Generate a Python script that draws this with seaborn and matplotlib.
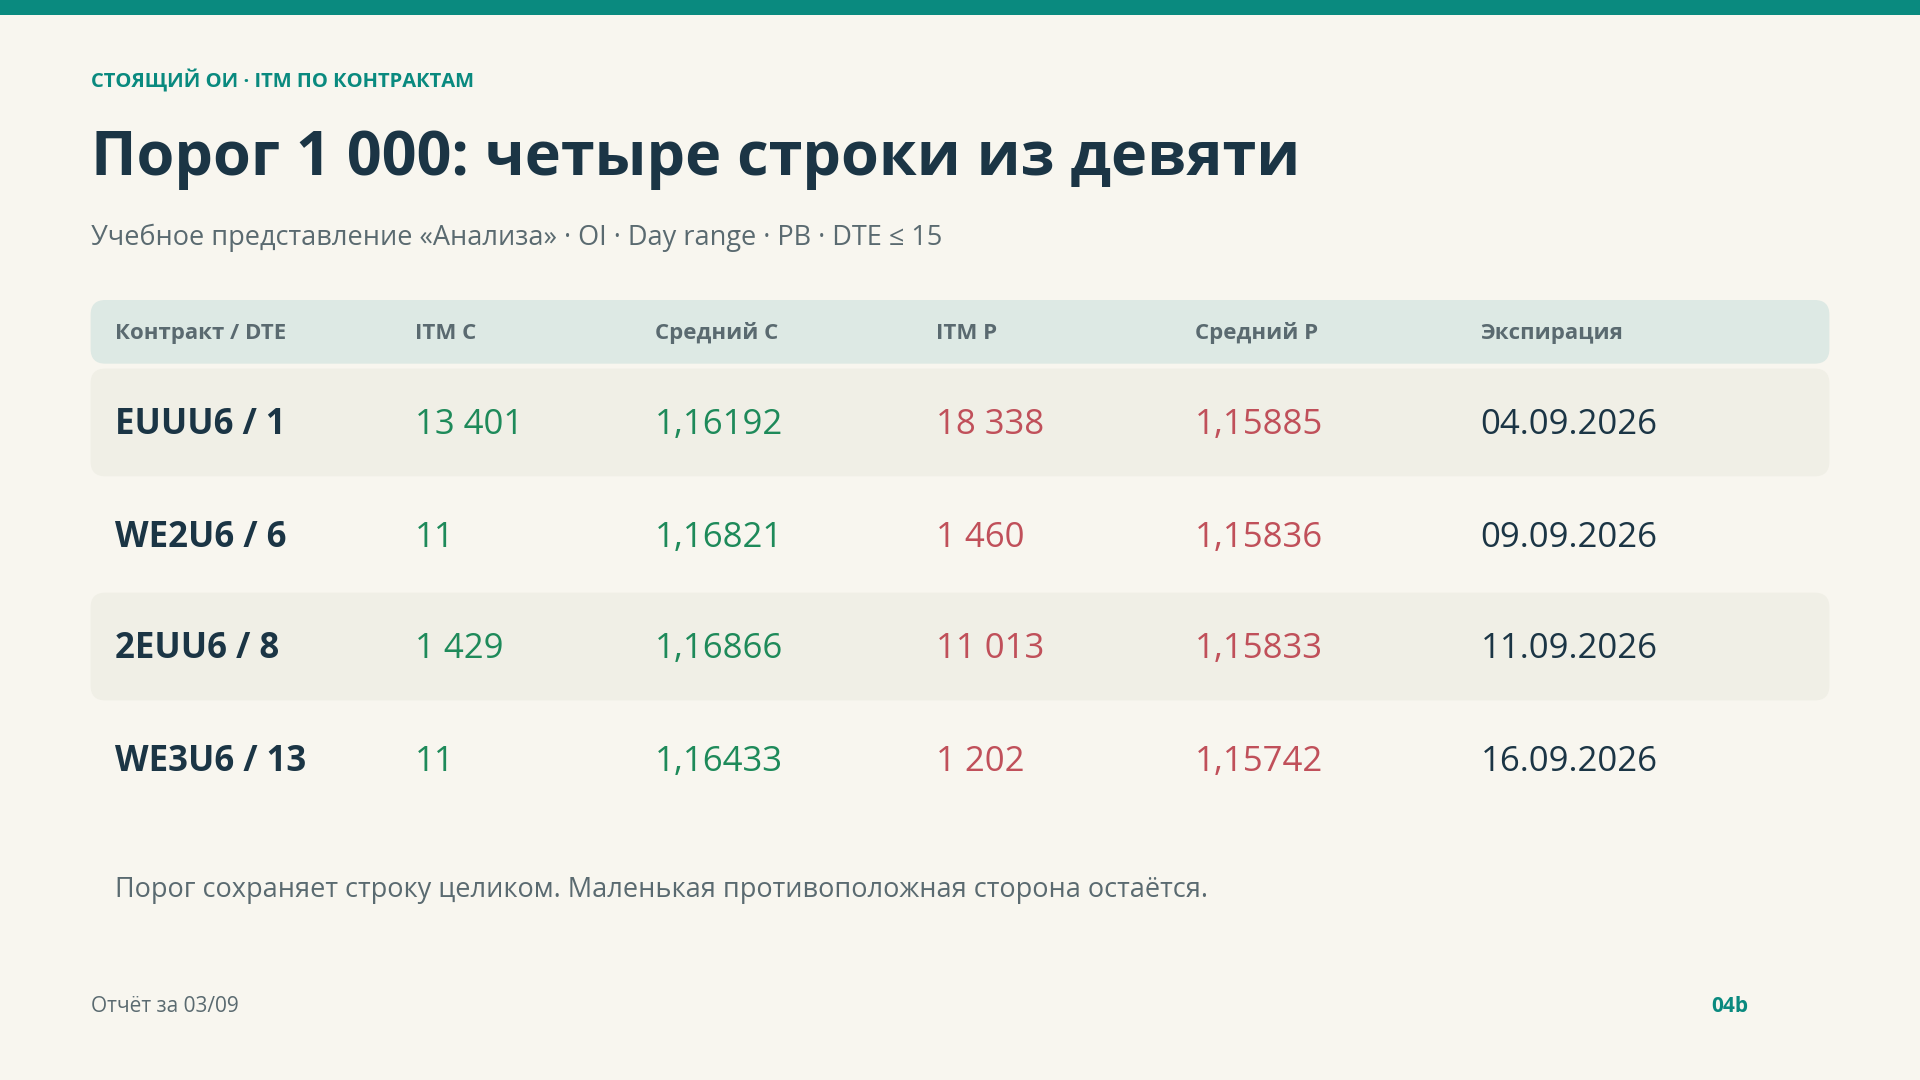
import matplotlib
matplotlib.use("Agg")
import matplotlib.pyplot as plt
import seaborn as sns
from matplotlib.patches import FancyBboxPatch, Rectangle

sns.set_theme(style="white")
plt.rcParams['font.family'] = ['Open Sans', 'Noto Sans', 'DejaVu Sans']

contracts = ["EUUU6 / 1", "WE2U6 / 6", "2EUU6 / 8", "WE3U6 / 13"]
itm_c = ["13 401", "11", "1 429", "11"]
avg_c = ["1,16192", "1,16821", "1,16866", "1,16433"]
itm_p = ["18 338", "1 460", "11 013", "1 202"]
avg_p = ["1,15885", "1,15836", "1,15833", "1,15742"]
expiry = ["04.09.2026", "09.09.2026", "11.09.2026", "16.09.2026"]
headers = ["Контракт / DTE", "ITM C", "Средний C", "ITM P", "Средний P", "Экспирация"]

BG = "#f8f6ef"; TEAL = "#0a8a7f"; DARK = "#1b3545"; GRAY = "#5a6a70"
GREEN = "#1e8a5a"; RED = "#c0505a"

fig = plt.figure(figsize=(19.2, 10.8), dpi=100, facecolor=BG)
ax = fig.add_axes([0, 0, 1, 1])
ax.set_facecolor(BG)
ax.set_xlim(0, 1568); ax.set_ylim(882, 0); ax.axis("off")

ax.add_patch(Rectangle((0, 0), 1568, 12, color=TEAL, lw=0))
ax.text(74, 66, "СТОЯЩИЙ ОИ · ITM ПО КОНТРАКТАМ", color=TEAL, fontsize=14.5, fontweight="bold", va="center")
ax.text(74, 130, "Порог 1 000: четыре строки из девяти", color=DARK, fontsize=44, fontweight="bold", va="center")
ax.text(74, 194, "Учебное представление «Анализа» · OI · Day range · PB · DTE ≤ 15", color=GRAY, fontsize=19.5, va="center")

ax.add_patch(FancyBboxPatch((74, 245), 1420, 52, boxstyle="round,pad=0,rounding_size=12",
                            fc="#dde9e4", ec="none"))
cols = [94, 339, 535, 764, 976, 1209]
for x, h in zip(cols, headers):
    ax.text(x, 272, h, color=GRAY, fontsize=16, fontweight="bold", va="center")

row_y = [347, 439, 530, 622]
for i, y in enumerate(row_y):
    if i % 2 == 0:
        ax.add_patch(FancyBboxPatch((74, y - 46), 1420, 88, boxstyle="round,pad=0,rounding_size=12",
                                    fc="#f0efe6", ec="none"))
    ax.text(cols[0], y, contracts[i], color=DARK, fontsize=25, fontweight="bold", va="center")
    ax.text(cols[1], y, itm_c[i], color=GREEN, fontsize=25, va="center")
    ax.text(cols[2], y, avg_c[i], color=GREEN, fontsize=25, va="center")
    ax.text(cols[3], y, itm_p[i], color=RED, fontsize=25, va="center")
    ax.text(cols[4], y, avg_p[i], color=RED, fontsize=25, va="center")
    ax.text(cols[5], y, expiry[i], color=DARK, fontsize=25, va="center")

ax.text(94, 727, "Порог сохраняет строку целиком. Маленькая противоположная сторона остаётся.",
        color=GRAY, fontsize=19.5, va="center")
ax.text(74, 822, "Отчёт за 03/09", color=GRAY, fontsize=15, va="center")
ax.text(1428, 822, "04b", color=TEAL, fontsize=15, fontweight="bold", va="center", ha="right")

fig.savefig("out.png", dpi=100, facecolor=BG)
